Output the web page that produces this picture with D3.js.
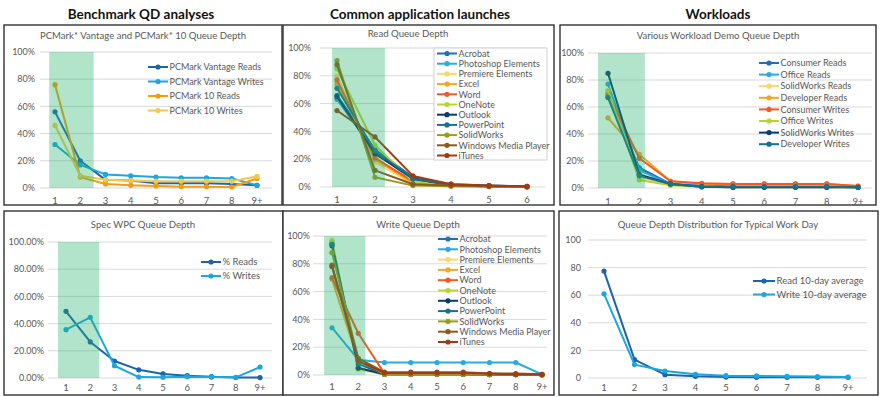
<!DOCTYPE html>
<html>
<head>
<meta charset="utf-8">
<script src="https://cdn.jsdelivr.net/npm/d3@7"></script>
<style>
  body { margin: 0; background: #fff; }
  svg text { font-family: Lato, "Open Sans", sans-serif; }
</style>
</head>
<body>
<svg id="canvas" width="880" height="397"></svg>
<script>
// ---- data ----
const qd9 = ["1", "2", "3", "4", "5", "6", "7", "8", "9+"]
const qd6 = ["1", "2", "3", "4", "5", "6"]
const pctTicks = [0, 20, 40, 60, 80, 100]

const groupTitles = ["Benchmark QD analyses", "Common application launches", "Workloads"]

const pcmarkNames = ["PCMark Vantage Reads", "PCMark Vantage Writes", "PCMark 10 Reads", "PCMark 10 Writes"]
const pcmarkValues = [
  [56, 20, 6, 5.5, 3.5, 3.5, 3.5, 3, 2],
  [32, 17, 10, 9, 8, 7.5, 7.5, 7, 2],
  [76, 8, 3, 2, 1.5, 1, 1, 0.7, 7],
  [46, 9, 6, 5.5, 5, 5, 5, 5, 8.5]
]

const specNames = ["% Reads", "% Writes"]
const specValues = [
  [49, 26.5, 12.5, 6, 3, 1.7, 1, 0.3, 0.3],
  [35.5, 44.6, 9, 0.7, 0.5, 1, 0.7, 0.5, 8]
]

const appNames = ["Acrobat", "Photoshop Elements", "Premiere Elements", "Excel", "Word", "OneNote",
  "Outlook", "PowerPoint", "SolidWorks", "Windows Media Player", "iTunes"]
const readValues = [
  [66, 27, 7, 2, 1, 0.5],
  [63, 25, 5, 1.5, 0.5, 0.2],
  [80, 18, 2, 1, 0.5, 0.2],
  [74, 20, 3, 1, 0.5, 0.2],
  [77, 21, 4, 1, 0.5, 0.2],
  [85, 30, 4, 1, 0.5, 0.2],
  [65, 24, 6, 1.5, 0.8, 0.3],
  [71, 26, 6, 1.5, 0.8, 0.3],
  [91, 7, 1, 0.5, 0.2, 0.1],
  [88, 12, 2, 1, 0.5, 0.2],
  [55, 36, 8, 2, 1, 0.5]
]
const writeValues = [
  [95, 5, 0.5, 0.5, 0.5, 0.5, 0.3, 0.3, 0.2],
  [34, 11, 9, 9, 9, 9, 9, 9, 0.5],
  [97, 4, 0.5, 0.5, 0.5, 0.5, 0.3, 0.3, 0.2],
  [69, 10, 1, 1, 1, 1, 0.5, 0.5, 0.3],
  [70, 30, 1, 1, 1, 1, 0.5, 0.5, 0.3],
  [96, 5, 0.3, 0.3, 0.3, 0.3, 0.3, 0.3, 0.2],
  [93, 5, 0.5, 0.5, 0.5, 0.5, 0.3, 0.3, 0.2],
  [94, 8, 0.5, 0.5, 0.5, 0.5, 0.3, 0.3, 0.2],
  [88, 12, 0.5, 0.5, 0.5, 0.5, 0.3, 0.3, 0.2],
  [79, 12, 2, 2, 2, 2, 1, 1, 0.5],
  [78, 10, 1.5, 1.5, 1.5, 1.5, 1, 0.5, 0.3]
]

const workloadNames = ["Consumer Reads", "Office Reads", "SolidWorks Reads", "Developer Reads",
  "Consumer Writes", "Office Writes", "SolidWorks Writes", "Developer Writes"]
const workloadValues = [
  [68, 15, 3, 2, 1, 1, 1, 1, 0.5],
  [77, 13, 3, 1.5, 1, 1, 1, 1, 0.5],
  [72, 8, 2, 1, 0.5, 0.5, 0.5, 0.5, 0.5],
  [52, 25, 5, 3, 3, 3, 3, 3, 1.5],
  [70, 22, 5, 3.5, 3, 3, 3, 3, 1.5],
  [72, 6, 2, 1, 0.5, 0.5, 0.5, 0.5, 0.5],
  [85, 10, 3, 1, 0.5, 0.5, 0.5, 0.5, 0.5],
  [67, 9, 3, 1, 1, 1, 1, 1, 0.5]
]

const dayNames = ["Read 10-day average", "Write 10-day average"]
const dayValues = [
  [77.5, 13.3, 2.4, 1.2, 0.7, 0.5, 0.5, 0.5, 0.5],
  [61, 9.7, 5, 2.7, 1.7, 1.5, 1.2, 1, 0.7]
]

// ---- colours ----
const twoBlues = ["#1e64aa", "#1aa7e0"]
const pcmarkColors = ["#1e64aa", "#1aa7e0", "#f39c12", "#f2c94c"]
const appColors = ["#1f6fb4", "#29abe2", "#f7d86a", "#f5a623", "#f05a24", "#b8d432",
  "#0b3a6e", "#17708f", "#9c9a1a", "#8b5a1f", "#a23a12"]

let canvas = d3.select("#canvas")

// group headings
const headX = [141, 420, 718]
canvas.selectAll(".head").data(groupTitles).enter().append("text")
  .attr("x", (d, i) => headX[i]).attr("y", 19)
  .attr("text-anchor", "middle").attr("font-size", 13.5).attr("font-weight", "bold")
  .attr("fill", "#111").text(d => d)

drawPanel = (p) => {
  let g = canvas.append("g")

  g.append("rect").attr("x", p.box[0]).attr("y", p.box[1])
    .attr("width", p.box[2] - p.box[0]).attr("height", p.box[3] - p.box[1])
    .attr("fill", "#fff").attr("stroke", "#333").attr("stroke-width", 1.4)

  g.append("text").attr("x", p.titleXY[0]).attr("y", p.titleXY[1])
    .attr("text-anchor", "middle").attr("font-size", 9.6).attr("fill", "#595959").text(p.title)

  let x = d3.scalePoint().domain(p.cats).range(p.xr)
  let y = d3.scaleLinear().domain([0, 100]).range(p.yr)
  let step = x.step()

  // gridlines + y labels
  g.selectAll(".grid").data(pctTicks).enter().append("line")
    .attr("x1", p.grid[0]).attr("x2", p.grid[1])
    .attr("y1", d => y(d)).attr("y2", d => y(d))
    .attr("stroke", "#d9d9d9").attr("stroke-width", 1)
  g.selectAll(".ylab").data(pctTicks).enter().append("text")
    .attr("x", p.yLabX).attr("y", d => y(d) + 3.2)
    .attr("text-anchor", "end").attr("font-size", 9).attr("fill", "#595959")
    .text(p.yFmt)
  g.selectAll(".xlab").data(p.cats).enter().append("text")
    .attr("x", d => x(d)).attr("y", p.xLabY)
    .attr("text-anchor", "middle").attr("font-size", 9.5).attr("fill", "#595959")
    .text(d => d)

  let line = d3.line().x((v, i) => x(p.cats[i])).y(v => y(v))
  p.values.forEach((vals, s) => {
    g.append("path").attr("d", line(vals)).attr("fill", "none")
      .attr("stroke", p.colors[s]).attr("stroke-width", 2).attr("stroke-linejoin", "round")
    g.selectAll(".pt" + s).data(vals).enter().append("circle")
      .attr("cx", (v, i) => x(p.cats[i])).attr("cy", v => y(v)).attr("r", 2.6)
      .attr("fill", p.colors[s])
  })

  // highlighted QD1-2 band sits over the lines
  if (p.band) {
    let bx0 = x(p.cats[0]) + p.band[0] * step
    let bx1 = x(p.cats[0]) + p.band[1] * step
    g.append("rect").attr("x", bx0).attr("y", y(100))
      .attr("width", bx1 - bx0).attr("height", y(0) - y(100))
      .attr("fill", "#22b06a").attr("opacity", 0.35)
  }

  // legend
  let lg = p.legend
  if (lg.box) {
    g.append("rect").attr("x", lg.box[0]).attr("y", lg.box[1])
      .attr("width", lg.box[2] - lg.box[0]).attr("height", lg.box[3] - lg.box[1])
      .attr("fill", "#fff").attr("stroke", "#d0d0d0")
  }
  p.names.forEach((name, s) => {
    let ly = lg.y0 + s * lg.dy
    g.append("line").attr("x1", lg.x0).attr("x2", lg.x1).attr("y1", ly).attr("y2", ly)
      .attr("stroke", p.colors[s]).attr("stroke-width", 2)
    g.append("circle").attr("cx", (lg.x0 + lg.x1) / 2).attr("cy", ly).attr("r", 2.6).attr("fill", p.colors[s])
    g.append("text").attr("x", lg.x1 + 1.5).attr("y", ly + 3.2)
      .attr("font-size", lg.fs).attr("fill", "#595959").text(name)
  })
}

const pct = d => d + "%"

drawPanel({
  box: [4, 25, 282, 205], title: "PCMark* Vantage and PCMark* 10 Queue Depth", titleXY: [143, 39],
  cats: qd9, xr: [55, 257], yr: [188, 52], grid: [40, 272], yLabX: 35, xLabY: 204, yFmt: pct,
  names: pcmarkNames, values: pcmarkValues, colors: pcmarkColors, band: [-0.23, 1.53],
  legend: { x0: 148, x1: 168, y0: 67, dy: 14.5, fs: 9 }
})
drawPanel({
  box: [283, 25, 554, 205], title: "Read Queue Depth", titleXY: [408, 37],
  cats: qd6, xr: [337, 527], yr: [187, 48], grid: [320, 545], yLabX: 311, xLabY: 203, yFmt: pct,
  names: appNames, values: readValues, colors: appColors, band: [-0.13, 1.26],
  legend: { box: [434, 48, 547, 160], x0: 437, x1: 457, y0: 53.5, dy: 10.2, fs: 9 }
})
drawPanel({
  box: [560, 25, 876, 205], title: "Various Workload Demo Queue Depth", titleXY: [718, 39],
  cats: qd9, xr: [608, 858], yr: [188, 53], grid: [588, 872], yLabX: 584, xLabY: 205, yFmt: pct,
  names: workloadNames, values: workloadValues, colors: appColors, band: [-0.32, 1.18],
  legend: { x0: 759, x1: 779, y0: 63, dy: 11.6, fs: 9 }
})
drawPanel({
  box: [4, 211, 283, 395], title: "Spec WPC Queue Depth", titleXY: [143, 228],
  cats: qd9, xr: [66, 260], yr: [378, 242], grid: [48, 272], yLabX: 44, xLabY: 391,
  yFmt: d => d.toFixed(2) + "%",
  names: specNames, values: specValues, colors: twoBlues, band: [-0.33, 1.37],
  legend: { x0: 201, x1: 221, y0: 262, dy: 14, fs: 9.5 }
})
drawPanel({
  box: [283, 211, 554, 395], title: "Write Queue Depth", titleXY: [418, 228],
  cats: qd9, xr: [332, 542], yr: [375, 236], grid: [313, 547], yLabX: 310, xLabY: 390, yFmt: pct,
  names: appNames, values: writeValues, colors: appColors, band: [-0.3, 1.27],
  legend: { x0: 438, x1: 458, y0: 239, dy: 10.3, fs: 9 }
})
drawPanel({
  box: [559, 211, 878, 395], title: "Queue Depth Distribution for Typical Work Day", titleXY: [718, 228],
  cats: qd9, xr: [604, 848], yr: [378, 240], grid: [588, 867], yLabX: 581, xLabY: 391, yFmt: d => d,
  names: dayNames, values: dayValues, colors: twoBlues, band: null,
  legend: { x0: 753, x1: 775, y0: 281, dy: 13.5, fs: 9.5 }
})
</script>
</body>
</html>
